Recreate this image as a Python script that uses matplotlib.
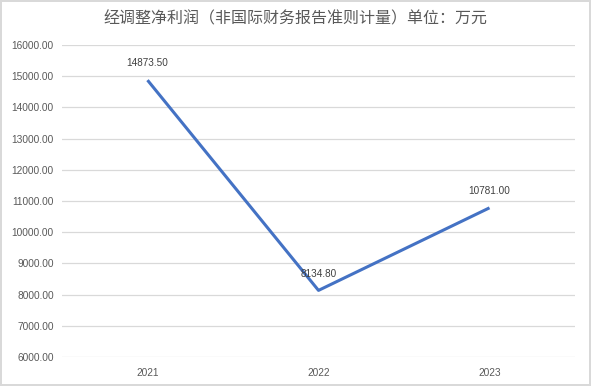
import matplotlib
matplotlib.use('Agg')
import matplotlib.pyplot as plt

plt.rcParams['font.family'] = ['Noto Sans CJK SC', 'DejaVu Sans']

# data
years = ['2021', '2022', '2023']
profit = [14873.50, 8134.80, 10781.00]
yticks = list(range(6000, 16001, 1000))
title = '经调整净利润（非国际财务报告准则计量）单位：万元'

fig = plt.figure(figsize=(5.91, 3.86), dpi=100)
fig.patch.set_edgecolor('#d9d9d9')
fig.patch.set_linewidth(1.5)
ax = fig.add_axes([62 / 591, 1 - 357 / 386, 513 / 591, 312 / 386])

xs = list(range(len(years)))
ax.plot(xs, profit, color='#4472C4', linewidth=2.2, solid_capstyle='butt')
for x, v in zip(xs, profit):
    ax.annotate(f'{v:.2f}', (x, v), xytext=(0, 8.5), textcoords='offset points',
                ha='center', va='bottom', fontsize=7.2, color='#404040',
                family=['Liberation Sans', 'DejaVu Sans'])

ax.set_xlim(-0.5, 2.5)
ax.set_ylim(6000, 16000)
ax.set_yticks(yticks)
ax.set_yticklabels([f'{t:.2f}' for t in yticks], family=['Liberation Sans', 'DejaVu Sans'])
ax.set_xticks(xs)
ax.set_xticklabels(years, family=['Liberation Sans', 'DejaVu Sans'])
ax.tick_params(axis='both', length=0, labelsize=7.3, labelcolor='#595959')
ax.tick_params(axis='y', pad=6)
ax.tick_params(axis='x', pad=8)
ax.grid(axis='y', color='#d9d9d9', linewidth=0.9)
ax.set_axisbelow(True)
for s in ax.spines.values():
    s.set_visible(False)

fig.text(0.5, 1 - 19 / 386, title, ha='center', va='center', fontsize=11.5, color='#595959')

fig.savefig('out.png', dpi=100)
